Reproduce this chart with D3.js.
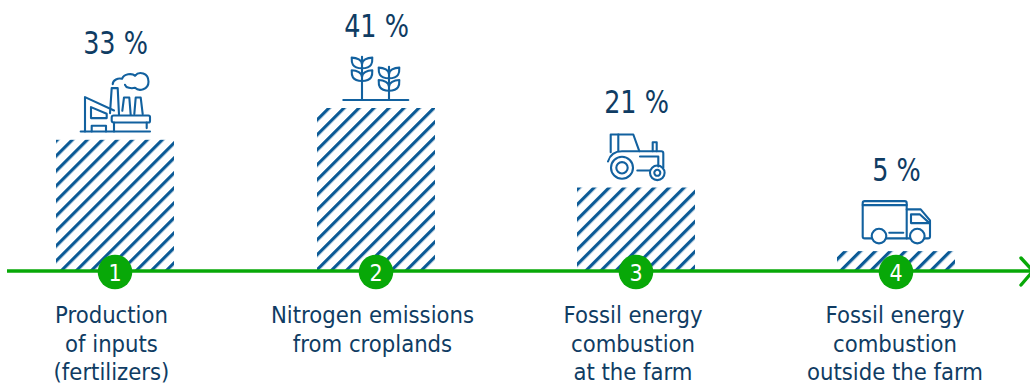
<!DOCTYPE html>
<html><head><meta charset="utf-8">
<script src="https://cdn.jsdelivr.net/npm/d3@7"></script>
<style>html,body{margin:0;padding:0;background:#fff}svg{display:block}
text{font-family:"DejaVu Sans Condensed","DejaVu Sans",sans-serif;font-stretch:condensed}</style></head>
<body><svg id="c" width="1030" height="385"></svg>
<script>
const categories = ["Production of inputs (fertilizers)","Nitrogen emissions from croplands","Fossil energy combustion at the farm","Fossil energy combustion outside the farm"];
const values = [33,41,21,5];
const valueLabels = ["33 %","41 %","21 %","5 %"];
const stepNumbers = ["1","2","3","4"];
const labelLines = [["Production","of inputs","(fertilizers)"],["Nitrogen emissions","from croplands"],["Fossil energy","combustion","at the farm"],["Fossil energy","combustion","outside the farm"]];
const iconNames = ["factory","plant","tractor","truck"];

const BLUE="#12619f", HATCH="#0b5a96", NAVY="#0f3c63", GREEN="#08a808";
const svg=d3.select("#c");
const baseY=271;
const centers=[115,376,636,896];
const xc=d3.scaleOrdinal().domain(categories).range(centers);
const barW=118;
const y=d3.scaleLinear().domain([0,41]).range([baseY,108]);

const defs=svg.append("defs");
const pat=defs.append("pattern").attr("id","hatch").attr("patternUnits","userSpaceOnUse")
 .attr("width",10.6).attr("height",10.6).attr("patternTransform","rotate(45)");
pat.append("rect").attr("width",10.6).attr("height",10.6).attr("fill","#fff");
pat.append("rect").attr("x",0).attr("y",0).attr("width",3.2).attr("height",10.6).attr("fill",HATCH);

svg.selectAll("rect.bar").data(categories).join("rect").attr("class","bar")
 .attr("x",d=>xc(d)-barW/2).attr("width",barW)
 .attr("y",(d,i)=>y(values[i])).attr("height",(d,i)=>baseY-y(values[i]))
 .attr("fill","url(#hatch)");

const leaf=(cx,by,s)=>`M${cx},${by} C${cx+s*10.3},${by} ${cx+s*10.5},${by-6} ${cx+s*10.3},${by-10.7} C${cx+s*5},${by-10.7} ${cx},${by-8} ${cx},${by-4}`;
const icons={
 factory:[
  "M-34.3,-8.3H35","M-30,-8.3V-42.7L-1,-29.3","M-24,-21.7V-32.7L-8.3,-26V-21.7Z","M-23.3,-8.3V-14H-9V-8.3",
  "M-5,-26.7L-3.3,-51.7H2.7L4,-25","M7.3,-29L9,-42.3H14.3L15.7,-25","M19.3,-25.7L20.7,-42.3H25.7L27.7,-25.7",
  "M-1.3,-24.3H33.5Q35,-24.3 35,-22.8V-18.8Q35,-17.3 33.5,-17.3H-1.3Q-3.3,-17.3 -3.3,-19.3V-22.3Q-3.3,-24.3 -1.3,-24.3Z",
  "M-1,-17.3V-8.3","M31.7,-17.3V-11.7",
  "M-2.3,-55.7C-2,-60 3,-62 7,-61C9,-66 17,-67 20,-64C24,-69 33.5,-67 33.5,-58C33.5,-50 24,-48 20,-52C16,-51 11,-52 10,-55"],
 plant:[
  "M-32.7,-8H32.3","M-14,-51.3V-8","M13,-41.3V-8",
  leaf(-14,-39.7,-1),leaf(-14,-39.7,1),leaf(-14,-27,-1),leaf(-14,-27,1),
  leaf(13,-29.7,-1),leaf(13,-29.7,1),leaf(13,-17.3,-1),leaf(13,-17.3,1)],
 tractor:[
  "M-25.3,-35.3V-53H-2.7L3.3,-36.3","M-17.7,-53V-36.5",
  "M-28,-26C-26,-33 -21,-36.3 -14,-36.3H25.3Q27.3,-36.3 27.3,-34.3V-19.7","M1.3,-17H14",
  "M16.7,-36.3V-45.3H20.7V-36.3","M4,-31H22.3V-21",
  "M-14,-8.7A11,11 0 1 1 -14,-30.7A11,11 0 1 1 -14,-8.7Z",
  "M-14,-14A5.7,5.7 0 1 1 -14,-25.4A5.7,5.7 0 1 1 -14,-14Z",
  "M21.3,-7.4A7.3,7.3 0 1 1 21.3,-22A7.3,7.3 0 1 1 21.3,-7.4Z",
  "M21.3,-11.7A3,3 0 1 1 21.3,-17.7A3,3 0 1 1 21.3,-11.7Z"],
 truck:[
  "M-24.5,-12.7H-31.3Q-33.3,-12.7 -33.3,-14.7V-48Q-33.3,-50 -31.3,-50H8.7Q10.7,-50 10.7,-48V-12.7",
  "M-33.3,-46H10.7","M-6.7,-18.3H7.3",
  "M10.7,-41.7H24.7L34,-30.7V-14.7Q34,-12.7 32,-12.7H28.5",
  "M15,-36.7H24L33.5,-28H15Z","M-9.5,-12.7H14",
  "M-17,-7.7A7.3,7.3 0 1 1 -17,-22.3A7.3,7.3 0 1 1 -17,-7.7Z",
  "M21.3,-7.7A7.3,7.3 0 1 1 21.3,-22.3A7.3,7.3 0 1 1 21.3,-7.7Z"]
};
categories.forEach((c,i)=>{
 const g=svg.append("g").attr("transform",`translate(${xc(c)},${y(values[i])})`);
 g.selectAll("path").data(icons[iconNames[i]]).join("path").attr("d",d=>d)
  .attr("fill","none").attr("stroke",BLUE).attr("stroke-width",2.1)
  .attr("stroke-linejoin","round").attr("stroke-linecap","round");
});

const labelGap=[85.5,71,75,70.5];
svg.selectAll("text.val").data(categories).join("text").attr("class","val")
 .attr("transform",(d,i)=>`translate(${xc(d)+0.5},${y(values[i])-labelGap[i]}) scale(0.9,1)`)
 .attr("text-anchor","middle").attr("fill",NAVY).attr("font-size",31.5)
 .text((d,i)=>valueLabels[i]);

svg.append("path").attr("d",`M7,${baseY}H1030`).attr("stroke",GREEN).attr("stroke-width",3.4).attr("fill","none");
svg.append("path").attr("d",`M1021,258L1033,271L1021,285`).attr("stroke",GREEN).attr("stroke-width",3.4).attr("fill","none").attr("stroke-linecap","round");

svg.selectAll("circle.step").data(categories).join("circle").attr("class","step")
 .attr("cx",d=>xc(d)).attr("cy",baseY+1).attr("r",17.3).attr("fill",GREEN);
svg.selectAll("text.step").data(categories).join("text").attr("class","step")
 .attr("x",d=>xc(d)).attr("y",baseY+9.5).attr("text-anchor","middle").attr("fill","#fff")
 .attr("font-size",23).text((d,i)=>stepNumbers[i]);

const labelShift=[-3.5,-3.5,-3,-1];
categories.forEach((c,i)=>{
 svg.append("g").selectAll("text").data(labelLines[i]).join("text")
  .attr("x",xc(c)+labelShift[i]).attr("y",(d,k)=>323+k*28.5)
  .attr("text-anchor","middle").attr("fill",NAVY).attr("font-size",23.6).text(d=>d);
});
</script></body></html>
